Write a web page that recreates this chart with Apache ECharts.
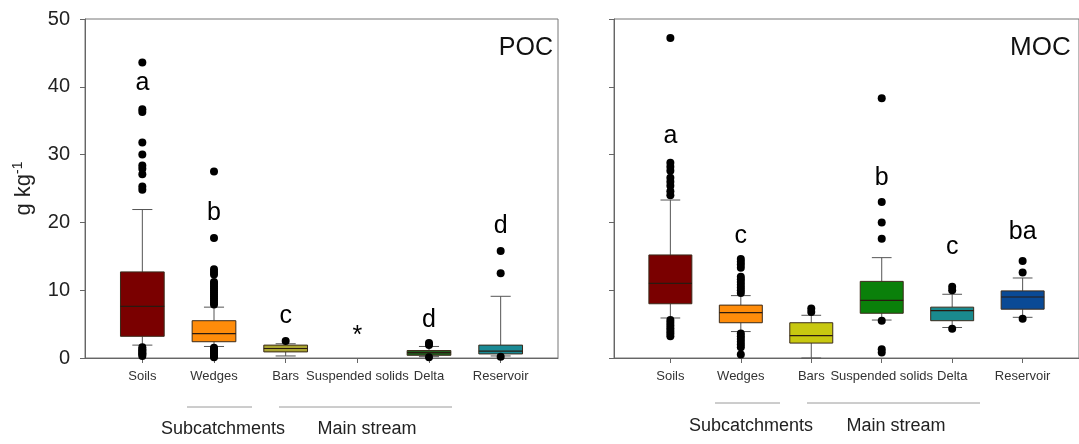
<!DOCTYPE html>
<html><head><meta charset="utf-8">
<script src="https://cdn.jsdelivr.net/npm/echarts@6/dist/echarts.min.js"></script>
<style>html,body{margin:0;padding:0;background:#fff}#c{width:1079px;height:444px}</style>
</head><body><div id="c"></div>
<script>
const categories = ['Soils','Wedges','Bars','Suspended solids','Delta','Reservoir'];
const yTicks = [0,10,20,30,40,50];

// [lower whisker, Q1, median, Q3, upper whisker]
const pocStats = [
  [1.9, 3.2, 7.6, 12.7, 21.9],
  [1.7, 2.4, 3.6, 5.5, 7.5],
  [0.3, 0.9, 1.4, 1.9, 2.1],
  null,
  [0.2, 0.4, 0.8, 1.1, 1.7],
  [0.3, 0.6, 1.0, 1.9, 9.1]
];
const pocOutliers = [
  [43.6, 36.7, 36.3, 31.8, 30.0, 28.4, 27.9, 27.1, 25.3, 24.8, 1.6, 1.3, 1.1, 0.9, 0.7, 0.5, 0.3],
  [27.5, 17.7, 13.1, 12.7, 12.3, 11.2, 10.9, 10.6, 10.3, 10.0, 9.7, 9.4, 9.1, 8.8, 8.5, 8.2, 7.9, 1.5, 1.3, 1.1, 0.9, 0.7, 0.5, 0.3, 0.1],
  [2.5],
  [],
  [2.2, 1.9, 0.1],
  [15.8, 12.5, 0.2]
];
const pocLetters = ['a','b','c','*','d','d'];
const pocLetterY = [40.6, 21.4, 6.2, 3.3, 5.6, 19.5];
const pocColors = ['#7a0000','#ff8c0a','#a9a432','#0a800a','#1f5f1f','#1a8a95'];

const mocStats = [
  [5.9, 8.0, 11.0, 15.2, 23.3],
  [3.9, 5.2, 6.7, 7.8, 9.2],
  [0.0, 2.2, 3.3, 5.2, 6.3],
  [5.6, 6.6, 8.5, 11.3, 14.8],
  [4.5, 5.5, 7.0, 7.5, 9.4],
  [6.0, 7.2, 9.0, 9.9, 11.8]
];
const mocOutliers = [
  [47.2, 28.8, 28.2, 27.6, 26.6, 26.0, 25.4, 24.6, 24.0, 5.6, 5.2, 4.8, 4.4, 4.0, 3.6, 3.2],
  [14.6, 14.2, 13.8, 13.3, 12.0, 11.6, 11.2, 10.8, 10.4, 10.0, 9.6, 3.6, 3.2, 2.8, 2.4, 2.0, 1.6, 0.5],
  [7.3, 6.8],
  [38.3, 23.0, 20.0, 17.6, 5.5, 1.3, 0.8],
  [10.5, 10.0, 4.3],
  [14.3, 12.6, 5.8]
];
const mocLetters = ['a','c','','b','c','ba'];
const mocLetterY = [32.8, 18.0, 0, 26.5, 16.4, 18.5];
const mocColors = ['#7a0000','#ff8c0a','#c8c810','#0a800a','#1a8a8e','#0a4a96'];

const FONT = 'Liberation Sans, Arial, sans-serif';

function boxData(stats){
  const out = [];
  stats.forEach((s,i)=>{ if(s) out.push([i].concat(s)); });
  return out;
}
function outlierData(list){
  const out = [];
  list.forEach((arr,i)=>arr.forEach(v=>out.push([i,v])));
  return out;
}
function letterData(letters, ys){
  const out = [];
  letters.forEach((l,i)=>{ if(l) out.push({name:l, value:[i, ys[i]]}); });
  return out;
}
function makeRender(colors){
  return function(params, api){
    const i = api.value(0);
    const pLw = api.coord([i, api.value(1)]);
    const pQ1 = api.coord([i, api.value(2)]);
    const pMd = api.coord([i, api.value(3)]);
    const pQ3 = api.coord([i, api.value(4)]);
    const pHw = api.coord([i, api.value(5)]);
    const unit = api.size([1,0])[0];
    const hb = unit*0.305, hc = unit*0.14;
    const cx = pMd[0];
    const ws = {stroke:'#555', lineWidth:1};
    return {type:'group', children:[
      {type:'line', shape:{x1:cx,y1:pHw[1],x2:cx,y2:pQ3[1]}, style:ws},
      {type:'line', shape:{x1:cx-hc,y1:pHw[1],x2:cx+hc,y2:pHw[1]}, style:ws},
      {type:'line', shape:{x1:cx,y1:pLw[1],x2:cx,y2:pQ1[1]}, style:ws},
      {type:'line', shape:{x1:cx-hc,y1:pLw[1],x2:cx+hc,y2:pLw[1]}, style:ws},
      {type:'rect', shape:{x:cx-hb,y:pQ3[1],width:2*hb,height:pQ1[1]-pQ3[1]}, style:{fill:colors[i], stroke:'#3a2a1a', lineWidth:1}},
      {type:'line', shape:{x1:cx-hb,y1:pMd[1],x2:cx+hb,y2:pMd[1]}, style:{stroke:'#2a1a10', lineWidth:1.2}}
    ]};
  };
}

function xAxis(gi){
  return {
    gridIndex: gi, type:'value', min:-0.8, max:5.8,
    axisLine:{show:true, onZero:false, lineStyle:{color:'#666', width:1}},
    axisTick:{show:true, customValues:[0,1,2,3,4,5], length:5, lineStyle:{color:'#666'}},
    axisLabel:{customValues:[0,1,2,3,4,5], formatter:v=>categories[Math.round(v)], fontSize:13, color:'#333', fontFamily:FONT, margin:12},
    splitLine:{show:false}
  };
}
function yAxis(gi, showLabels){
  const ax = {
    gridIndex: gi, type:'value', min:0, max:50, interval:10,
    axisLine:{show:true, onZero:false, lineStyle:{color:'#666', width:1}},
    axisTick:{show:true, length:5, lineStyle:{color:'#666'}},
    axisLabel:{show:showLabels, fontSize:20, color:'#222', fontFamily:FONT, margin:15, formatter:v=>String(v)},
    splitLine:{show:false}
  };
  if(showLabels){
    ax.name = '{a|g kg}{b|-1}';
    ax.nameLocation = 'middle';
    ax.nameRotate = 90;
    ax.nameGap = 48;
    ax.nameTextStyle = {rich:{
      a:{fontSize:22, color:'#222', fontFamily:FONT, lineHeight:26},
      b:{fontSize:14, color:'#222', fontFamily:FONT, verticalAlign:'top', lineHeight:26, padding:[0,0,10,0]}
    }};
  }
  return ax;
}

function panelSeries(gi, stats, outliers, letters, letterY, colors){
  return [
    {type:'custom', xAxisIndex:gi, yAxisIndex:gi, renderItem:makeRender(colors), data:boxData(stats),
     encode:{x:0, y:[1,2,3,4,5]}, silent:true, z:2},
    {type:'scatter', xAxisIndex:gi, yAxisIndex:gi, data:outlierData(outliers), symbol:'circle', symbolSize:8,
     itemStyle:{color:'#000', opacity:1}, silent:true, z:3},
    {type:'scatter', xAxisIndex:gi, yAxisIndex:gi, data:letterData(letters, letterY), symbolSize:0,
     itemStyle:{opacity:1},
     label:{show:true, position:'inside', formatter:p=>p.name, fontSize:25, color:'#000', fontFamily:FONT},
     silent:true, z:4}
  ];
}

const chart = echarts.init(document.getElementById('c'), null, {renderer:'canvas'});
const gl = '#9a9a9a';
chart.setOption({
  animation:false,
  backgroundColor:'#fff',
  grid:[
    {left:85, top:19, width:473, height:339, show:true, borderColor:'#777', borderWidth:1, backgroundColor:'transparent'},
    {left:614, top:19, width:474, height:339, show:true, borderColor:'#777', borderWidth:1, backgroundColor:'transparent'}
  ],
  xAxis:[xAxis(0), xAxis(1)],
  yAxis:[yAxis(0,true), yAxis(1,false)],
  series: panelSeries(0, pocStats, pocOutliers, pocLetters, pocLetterY, pocColors)
    .concat(panelSeries(1, mocStats, mocOutliers, mocLetters, mocLetterY, mocColors)),
  graphic:[
    {type:'text', x:553, y:48, style:{text:'POC', fontSize:25, fill:'#111', fontFamily:FONT, align:'right', verticalAlign:'middle'}},
    {type:'text', x:1010, y:48, style:{text:'MOC', fontSize:26, fill:'#111', fontFamily:FONT, align:'left', verticalAlign:'middle'}},
    {type:'line', shape:{x1:187,y1:407,x2:252,y2:407}, style:{stroke:gl, lineWidth:1}},
    {type:'line', shape:{x1:279,y1:407,x2:452,y2:407}, style:{stroke:gl, lineWidth:1}},
    {type:'line', shape:{x1:715,y1:403,x2:780,y2:403}, style:{stroke:gl, lineWidth:1}},
    {type:'line', shape:{x1:807,y1:403,x2:980,y2:403}, style:{stroke:gl, lineWidth:1}},
    {type:'text', x:223, y:429, style:{text:'Subcatchments', fontSize:18, fill:'#222', fontFamily:FONT, align:'center', verticalAlign:'middle'}},
    {type:'text', x:367, y:429, style:{text:'Main stream', fontSize:18, fill:'#222', fontFamily:FONT, align:'center', verticalAlign:'middle'}},
    {type:'text', x:751, y:426, style:{text:'Subcatchments', fontSize:18, fill:'#222', fontFamily:FONT, align:'center', verticalAlign:'middle'}},
    {type:'text', x:896, y:426, style:{text:'Main stream', fontSize:18, fill:'#222', fontFamily:FONT, align:'center', verticalAlign:'middle'}}
  ]
});
</script>
</body></html>
